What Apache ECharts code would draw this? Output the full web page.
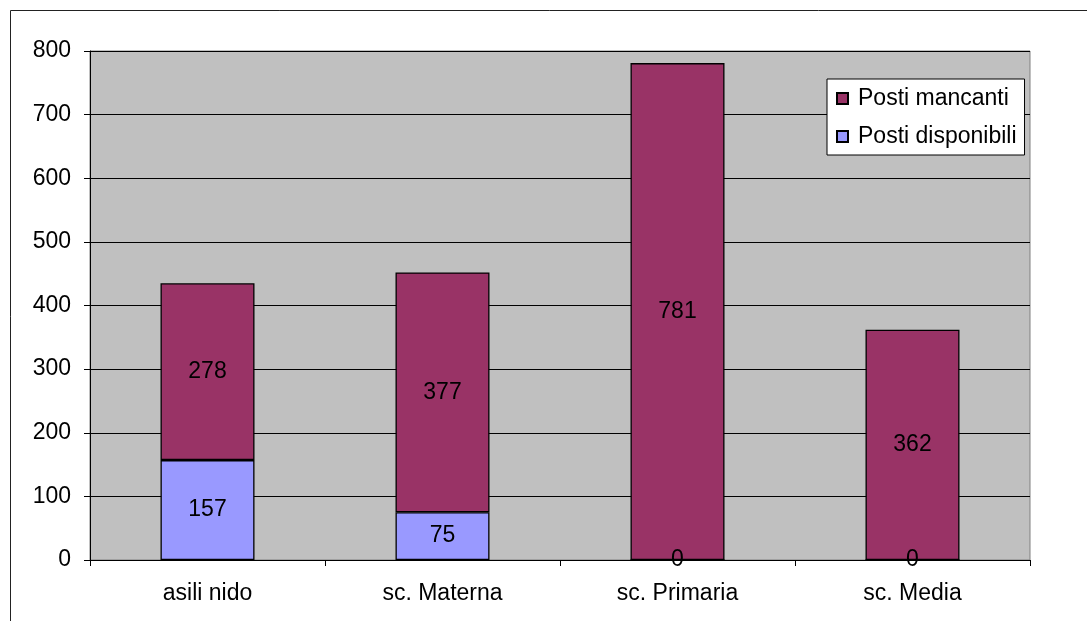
<!DOCTYPE html>
<html>
<head>
<meta charset="utf-8">
<script src="https://cdn.jsdelivr.net/npm/echarts@6/dist/echarts.min.js"></script>
<style>
html,body{margin:0;padding:0;background:#fff;}
#c{width:1087px;height:621px;}
</style>
</head>
<body>
<div id="c"></div>
<script>
const categories = ['asili nido', 'sc. Materna', 'sc. Primaria', 'sc. Media'];
const postiDisponibili = [157, 75, 0, 0];
const postiMancanti = [278, 377, 781, 362];
const yTicks = { min: 0, max: 800, interval: 100 };

const FONT = '"Liberation Sans", Arial, sans-serif';
const FS = 23;
const chart = echarts.init(document.getElementById('c'));
const labelStyle = { show: true, position: 'inside', color: '#000', fontSize: FS, fontFamily: FONT };
chart.setOption({
  animation: false,
  backgroundColor: '#fff',
  textStyle: { fontFamily: FONT },
  graphic: [{
    type: 'rect', z: -10, silent: true,
    shape: { x: 10.5, y: 10.5, width: 1100, height: 640 },
    style: { fill: 'none', stroke: '#222', lineWidth: 1 }
  }],
  grid: {
    left: 90, right: 57, top: 51, bottom: 61,
    show: true, backgroundColor: '#C0C0C0', borderColor: '#808080', borderWidth: 1
  },
  legend: {
    orient: 'vertical', left: 827, top: 79,
    data: ['Posti mancanti', 'Posti disponibili'],
    backgroundColor: '#fff', borderColor: '#000', borderWidth: 1,
    padding: [8, 8, 7, 9], itemGap: 15,
    icon: 'rect', itemWidth: 11, itemHeight: 11,
    textStyle: { fontSize: FS, color: '#000', fontFamily: FONT, padding: [0, 0, 0, 5] }
  },
  xAxis: {
    type: 'category', data: categories,
    axisLine: { lineStyle: { color: '#000', width: 1 } },
    axisTick: { show: true, length: 6, lineStyle: { color: '#000' } },
    axisLabel: { fontSize: FS, color: '#000', margin: 22, fontFamily: FONT }
  },
  yAxis: {
    type: 'value', min: yTicks.min, max: yTicks.max, interval: yTicks.interval,
    axisLine: { show: true, lineStyle: { color: '#000', width: 1 } },
    axisTick: { show: true, length: 6, lineStyle: { color: '#000' } },
    axisLabel: { fontSize: FS, color: '#000', margin: 19, fontFamily: FONT },
    splitLine: { show: true, lineStyle: { color: '#000', width: 1 } }
  },
  series: [
    {
      name: 'Posti disponibili', type: 'bar', stack: 'tot', data: postiDisponibili,
      barWidth: '40%',
      itemStyle: { color: '#9999FF', borderColor: '#000', borderWidth: 1.3 },
      label: labelStyle
    },
    {
      name: 'Posti mancanti', type: 'bar', stack: 'tot', data: postiMancanti,
      barWidth: '40%',
      itemStyle: { color: '#993366', borderColor: '#000', borderWidth: 1.3 },
      label: labelStyle
    }
  ]
});
</script>
</body>
</html>
